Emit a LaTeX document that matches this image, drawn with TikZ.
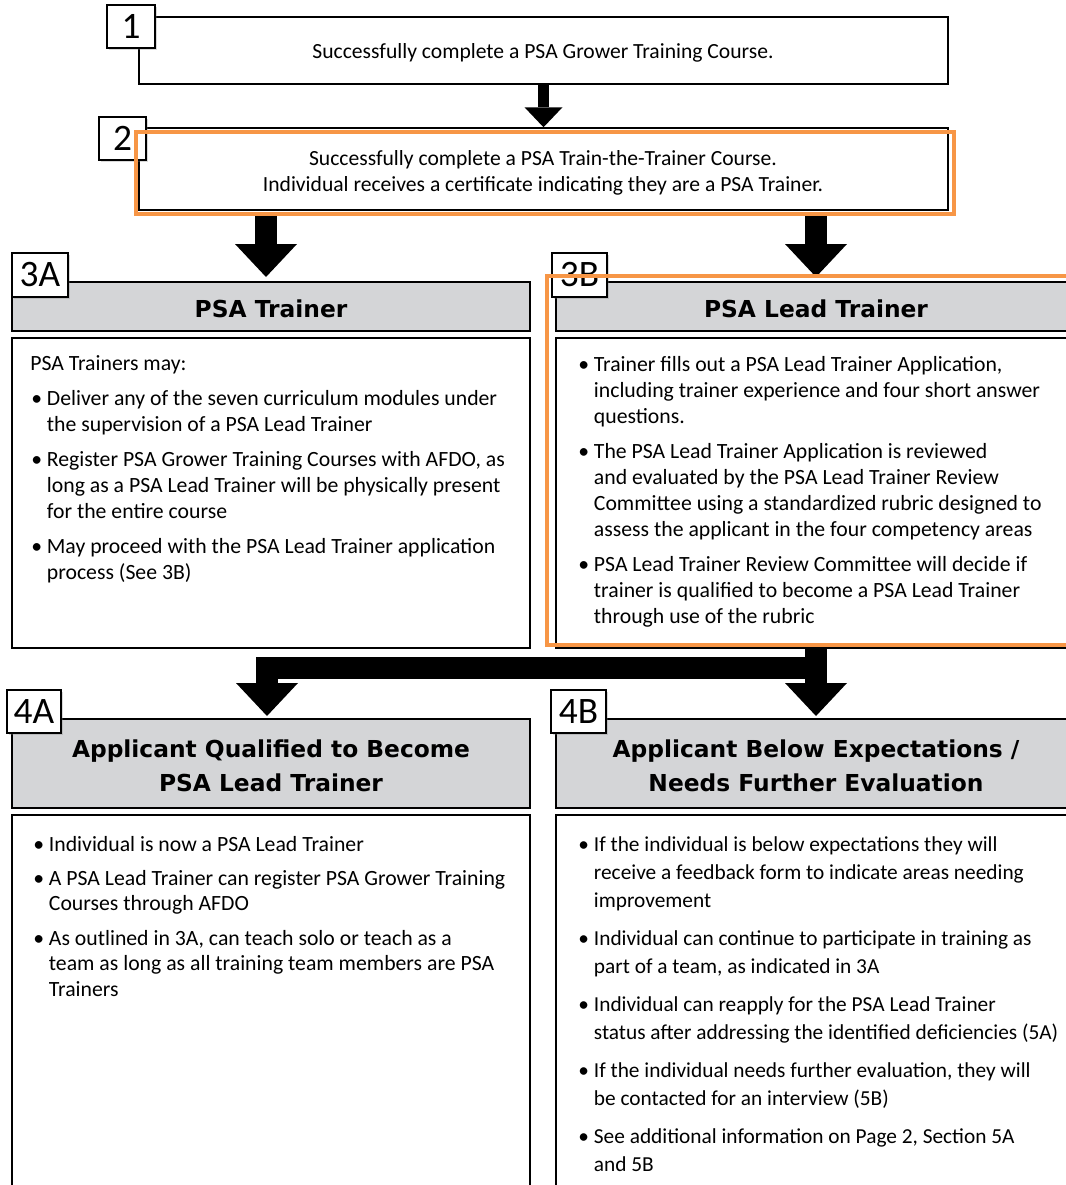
\documentclass[tikz,border=0pt]{standalone}
\usepackage{fontspec}
\setmainfont{Carlito}
\newfontfamily\hdfont{DejaVu Sans}
\usetikzlibrary{arrows.meta,shadows}
\definecolor{hdgray}{RGB}{212,213,215}
\definecolor{orng}{RGB}{247,150,70}
\newcommand\bitem[1]{\par\noindent\hangindent=12.5pt\hangafter=1\makebox[12.5pt][l]{\hspace{0.8pt}\textbullet}#1\par}
\begin{document}
\begin{tikzpicture}[x=0.75pt,y=-0.75pt,
  bx/.style={draw=black, line width=1.1pt, fill=white, inner sep=0pt, align=center, font=\fontsize{16}{19.5}\selectfont},
  hd/.style={bx, fill=hdgray},
  hdtext/.style={inner sep=0pt, align=center, font=\hdfont\bfseries\fontsize{17.5}{25.5}\selectfont},
  lbl/.style={bx, font=\fontsize{28}{30}\selectfont, drop shadow={shadow xshift=1.5pt,shadow yshift=-1.5pt,opacity=0.3}},
  org/.style={draw=orng, line width=2.4pt, inner sep=0pt},
  txt/.style={inner sep=0pt, align=center, font=\fontsize{16.2}{19.5}\selectfont},
  body/.style={inner sep=0pt, anchor=base west},
  bigarrow/.style={line width=16.5pt, line join=miter, -{Triangle[width=46.5pt,length=24.75pt,line width=0pt]}},
  smallarrow/.style={line width=8pt, -{Triangle[width=28.5pt,length=15pt,line width=0pt]}}]
\useasboundingbox (0,0) rectangle (1066,1185);
\clip (0,0) rectangle (1066,1185);

% main boxes
\node[bx, minimum width=606.75pt, minimum height=50.25pt] (b1) at (543.5,50.5) {};
\node[txt] (b1t) at (543,53) {Successfully complete a PSA Grower Training Course.};
\node[bx, minimum width=606.75pt, minimum height=61.5pt] (b2) at (543.5,169) {};
\node[txt] (b2t) at (543,172.5) {Successfully complete a PSA Train-the-Trainer Course.\\Individual receives a certificate indicating they are a PSA Trainer.};

\node[hd, minimum width=388.5pt, minimum height=36.75pt] (h3a) at (271,306.5) {};
\node[hdtext] (h3at) at (271,309) {PSA Trainer};
\node[bx, minimum width=388.5pt, minimum height=232.5pt] (b3a) at (271,493) {};
\node[hd, minimum width=390pt, minimum height=36.75pt] (h3b) at (816,306.5) {};
\node[hdtext] (h3bt) at (816,309) {PSA Lead Trainer};
\node[bx, minimum width=390pt, minimum height=232.5pt] (b3b) at (816,493) {};

\node[hd, minimum width=388.5pt, minimum height=66.75pt] (h4a) at (271,763.5) {};
\node[hdtext] (h4at) at (271,766) {Applicant Qualified to Become\\PSA Lead Trainer};
\node[bx, minimum width=388.5pt, minimum height=288.75pt] (b4a) at (271,1007.5) {};
\node[hd, minimum width=390pt, minimum height=66.75pt] (h4b) at (816,763.5) {};
\node[hdtext] (h4bt) at (816,766) {Applicant Below Expectations /\\Needs Further Evaluation};
\node[bx, minimum width=390pt, minimum height=288.75pt] (b4b) at (816,1007.5) {};

% body texts
\node[body] (t3a) at (30,370) {\begin{minipage}[t]{380pt}\fontsize{16.3}{19.5}\selectfont
PSA Trainers may:\par\setlength\parskip{6.75pt}
\bitem{Deliver any of the seven curriculum modules under\\the supervision of a PSA Lead Trainer}
\bitem{Register PSA Grower Training Courses with AFDO, as\\long as a PSA Lead Trainer will be physically present\\for the entire course}
\bitem{May proceed with the PSA Lead Trainer application\\process (See 3B)}
\end{minipage}};

\node[body] (t3b) at (577,371) {\begin{minipage}[t]{380pt}\fontsize{16.3}{19.5}\selectfont
\bitem{Trainer fills out a PSA Lead Trainer Application,\\including trainer experience and four short answer\\questions.}\setlength\parskip{6.75pt}
\bitem{The PSA Lead Trainer Application is reviewed\\and evaluated by the PSA Lead Trainer Review\\Committee using a standardized rubric designed to\\assess the applicant in the four competency areas}
\bitem{PSA Lead Trainer Review Committee will decide if\\trainer is qualified to become a PSA Lead Trainer\\through use of the rubric}
\end{minipage}};

\node[body] (t4a) at (32,851) {\begin{minipage}[t]{380pt}\fontsize{16.3}{19.1}\selectfont
\bitem{Individual is now a PSA Lead Trainer}\setlength\parskip{6.75pt}
\bitem{A PSA Lead Trainer can register PSA Grower Training\\Courses through AFDO}
\bitem{As outlined in 3A, can teach solo or teach as a\\team as long as all training team members are PSA\\Trainers}
\end{minipage}};

\node[body] (t4b) at (577,851) {\begin{minipage}[t]{390pt}\fontsize{16}{21}\selectfont
\bitem{If the individual is below expectations they will\\receive a feedback form to indicate areas needing\\improvement}\setlength\parskip{7.5pt}
\bitem{Individual can continue to participate in training as\\part of a team, as indicated in 3A}
\bitem{Individual can reapply for the PSA Lead Trainer\\status after addressing the identified deficiencies (5A)}
\bitem{If the individual needs further evaluation, they will\\be contacted for an interview (5B)}
\bitem{See additional information on Page 2, Section 5A\\and 5B}
\end{minipage}};

% connectors
\coordinate (e3a) at (266,277);
\coordinate (e3b) at (816,277);
\coordinate (jbar) at (0,667.5);
\coordinate (e4a) at (267,716);
\coordinate (e4b) at (816,716);
\draw[smallarrow] (b1.south) -- (b2.north);
\draw[bigarrow] (b2.south -| e3a) ++(0,4) -- (e3a);
\draw[bigarrow] (b2.south -| e3b) ++(0,4) -- (e3b);
\draw[bigarrow] (b3b.south) -- (b3b.south |- jbar) -- (e4a |- jbar) -- (e4a);
\draw[bigarrow] (b3b.south) -- (e4b);

% number labels
\node[lbl, minimum width=36pt, minimum height=32.25pt] (l1) at (131,26.5) {1};
\node[lbl, minimum width=35.25pt, minimum height=32.25pt] (l2) at (122.5,138.5) {2};
\node[lbl, minimum width=42pt, minimum height=33pt] (l3a) at (40,275) {3A};
\node[lbl, minimum width=41.25pt, minimum height=33pt] (l3b) at (579.5,275) {3B};
\node[lbl, minimum width=40.5pt, minimum height=32.25pt] (l4a) at (34,711.5) {4A};
\node[lbl, minimum width=41.25pt, minimum height=32.25pt] (l4b) at (578.5,711.5) {4B};

% orange highlights
\node[org, minimum width=613.5pt, minimum height=61.5pt] (o2) at (545,173) {};
\node[org, minimum width=401.25pt, minimum height=276.75pt] (o3b) at (814.5,460.5) {};
\end{tikzpicture}
\end{document}
